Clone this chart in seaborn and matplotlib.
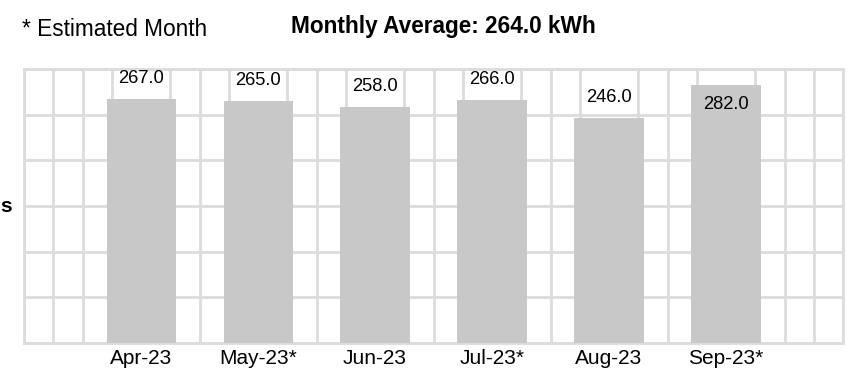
import matplotlib
matplotlib.use('Agg')
import matplotlib.pyplot as plt
import seaborn as sns
import numpy as np
import pandas as pd

# data
months = ["Apr-23", "May-23", "Jun-23", "Jul-23", "Aug-23", "Sep-23"]
usage_kwh = [267.0, 265.0, 258.0, 266.0, 246.0, 282.0]
estimated = [False, True, False, True, False, True]
monthly_average = 264.0

sns.set_theme(style="white")
plt.rcParams['font.family'] = ['Liberation Sans', 'DejaVu Sans']
plt.rcParams['text.color'] = 'black'

labels = [m + ("*" if e else "") for m, e in zip(months, estimated)]
df = pd.DataFrame({"Month": labels, "kWh": usage_kwh})

fig = plt.figure(figsize=(8.64, 3.8), dpi=100)
ax = fig.add_axes([0.0278, 0.0974, 0.9479, 0.7210])

grid_col = "#dcdcdc"
sns.barplot(data=df, x="Month", y="kWh", color="#c8c8c8", saturation=1,
            width=0.59, ax=ax, zorder=3, edgecolor="none")

ax.set_xlim(-1, 6)
ax.set_ylim(0, 300)
ax.set_yticks(np.arange(0, 301, 50))
ax.set_yticklabels([])
ax.set_xticks(np.arange(-1, 6.01, 0.25), minor=True)
ax.grid(False)
ax.grid(True, which="minor", axis="x", color=grid_col, lw=2, zorder=0)
ax.grid(True, which="major", axis="y", color=grid_col, lw=2, zorder=0)
ax.tick_params(axis="both", which="both", length=0)
ax.tick_params(axis="x", labelsize=15, pad=4, colors="black")
for s in ax.spines.values():
    s.set_color(grid_col)
    s.set_linewidth(2)
    s.set_zorder(1)
ax.set_xlabel("")
ax.set_ylabel("")

# value labels sit above the bar, or inside it when there is no room
top = ax.get_ylim()[1]
for i, v in enumerate(usage_kwh):
    dy = 15 if v + 24 < top else -13.5
    ax.annotate(f"{v:.1f}", (i, v), xytext=(0, dy), textcoords="offset points",
                ha="center", va="center", fontsize=13.2, color="black", zorder=4)

fig.text(22 / 864, 1 - 30 / 380, "* Estimated Month", fontsize=16.3,
         color="black", va="center", ha="left")
fig.text(443 / 864, 1 - 26.5 / 380, f"Monthly Average: {monthly_average:.1f} kWh",
         fontsize=16.3, fontweight="bold", color="black", va="center", ha="center")
fig.text(0, 1 - 206 / 380, "s", fontsize=15, fontweight="bold", color="black",
         va="center", ha="left")

fig.savefig("out.png", dpi=100)
